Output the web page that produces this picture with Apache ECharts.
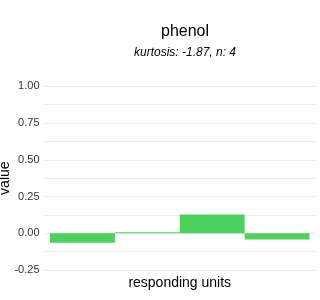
<!DOCTYPE html>
<html><head><meta charset="utf-8">
<script src="https://cdn.jsdelivr.net/npm/echarts@6/dist/echarts.min.js"></script>
<style>html,body{margin:0;padding:0;background:#fff}#c{width:320px;height:300px}</style>
</head><body><div id="c"></div>
<script>
const title = 'phenol';
const subtitle = 'kurtosis: -1.87, n: 4';
const positions = [1, 2, 3, 4];
const values = [-0.064, 0.007, 0.128, -0.043];
const yTicks = [-0.25, 0, 0.25, 0.5, 0.75, 1.0];
const xName = 'responding units';
const yName = 'value';

const chart = echarts.init(document.getElementById('c'), null, {renderer: 'canvas'});
const font = 'Liberation Sans, Arial, sans-serif';
chart.setOption({
  animation: false,
  backgroundColor: '#fff',
  title: [
    {text: title, left: 180, top: 19, textAlign: 'center',
     textStyle: {fontFamily: font, fontSize: 16, fontWeight: 'normal', color: '#000'}},
    {text: subtitle, left: 180, top: 42, textAlign: 'center',
     textStyle: {fontFamily: font, fontSize: 12, fontStyle: 'italic', fontWeight: 'normal', color: '#000'}}
  ],
  grid: {left: 43.5, right: 4, top: 86.3, bottom: 30, containLabel: false, outerBoundsMode: 'none'},
  xAxis: {
    type: 'value', min: 0.4, max: 4.6,
    axisLine: {show: false}, axisTick: {show: false}, axisLabel: {show: false},
    splitLine: {show: false},
    name: xName, nameLocation: 'middle', nameGap: 6, nameMoveOverlap: false,
    nameTextStyle: {fontFamily: font, fontSize: 14, color: '#000'}
  },
  yAxis: {
    type: 'value', min: -0.25, max: 1.0, interval: 0.125,
    axisLine: {show: false}, axisTick: {show: false},
    axisLabel: {
      fontFamily: font, fontSize: 11, color: '#333333', margin: 4,
      formatter: v => {
        const t = yTicks.find(k => Math.abs(k - v) < 1e-9);
        return t === undefined ? '' : t.toFixed(2);
      }
    },
    splitLine: {show: true, lineStyle: {color: '#ebebeb', width: 1}},
    name: yName, nameLocation: 'middle', nameGap: 31, nameMoveOverlap: false,
    nameTextStyle: {fontFamily: font, fontSize: 14, color: '#000'}
  },
  series: [{
    type: 'custom',
    data: positions.map((p, i) => [p, values[i]]),
    renderItem: (params, api) => {
      const x = api.value(0), v = api.value(1);
      const a = api.coord([x - 0.5, 0]);
      const b = api.coord([x + 0.5, v]);
      return {
        type: 'rect',
        shape: {x: a[0], y: Math.min(a[1], b[1]), width: b[0] - a[0], height: Math.max(1, Math.abs(b[1] - a[1]))},
        style: {fill: '#4bd15c'}
      };
    }
  }]
});
</script></body></html>
